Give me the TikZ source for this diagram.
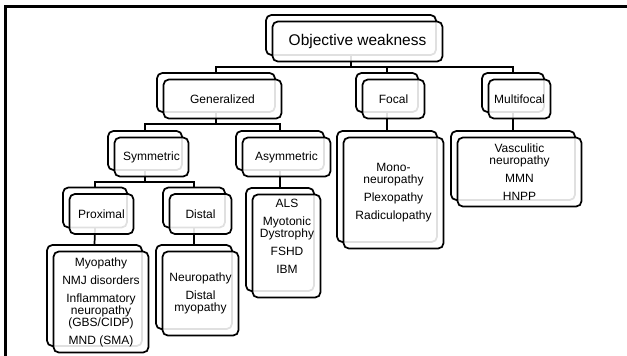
\documentclass[tikz,border=0pt]{standalone}
\usepackage{fontspec}
\newfontfamily\boxfont{Liberation Sans}
\usetikzlibrary{calc}
\tikzset{
  panel/.style={draw=black, line width=1.3pt, rounded corners=4pt, inner sep=0pt, outer sep=0pt},
  backbox/.style={panel, fill=white},
  frontbox/.style={panel, fill=white, fill opacity=0.88, text opacity=1, align=center,
    font=\boxfont\fontsize{9}{9}\selectfont},
  boxtext/.style={align=center, inner sep=0pt, font=\boxfont\fontsize{9}{9}\selectfont},
  link/.style={draw=black, line width=1.3pt},
  frame/.style={draw=black, line width=2.25pt},
}
% back panel: name, centre x, centre y, width, height (all in px)
\newcommand\backpanel[5]{\node[backbox, minimum width=#4*0.75pt, minimum height=#5*0.75pt] (#1b) at (#2,#3) {};}
% front panel: name, width, height, text
\newcommand\frontpanel[4]{\node[frontbox, minimum width=#2*0.75pt, minimum height=#3*0.75pt] (#1f) at ($(#1b.center)+(6.5,6.5)$) {#4};}
\begin{document}
\begin{tikzpicture}[x=0.75pt,y=-0.75pt]
\useasboundingbox (0,0) rectangle (627,355);
\draw[frame] (5.5,360) -- (5.5,6.5) -- (632,6.5);

% back panels
\backpanel{obj}{351}{35}{170}{40}
\backpanel{gen}{216}{92.5}{118}{39}
\backpanel{foc}{387}{92.5}{62}{39}
\backpanel{mul}{513}{92.5}{62}{39}
\backpanel{sym}{145}{150.5}{74}{39}
\backpanel{asym}{280}{150.5}{88}{39}
\backpanel{prox}{95}{207.5}{64}{40}
\backpanel{dist}{194}{207.5}{62}{40}
\backpanel{proxl}{94.5}{295.5}{95}{101}
\backpanel{distl}{194}{287}{76}{84}
\backpanel{asyml}{280}{239.5}{68}{103}
\backpanel{focl}{387}{186.5}{100}{111}
\backpanel{mull}{513}{165.5}{124}{69}

% connectors
\draw[link] (objb.south) -- ++(0,12) -| (genb.north);
\draw[link] (objb.south) -- ++(0,12) -| (focb.north);
\draw[link] (objb.south) -- ++(0,12) -| (mulb.north);
\draw[link] (genb.south) -- ++(0,12) -| (symb.north);
\draw[link] (genb.south) -- ++(0,12) -| (asymb.north);
\draw[link] (symb.south) -- ++(0,12) -| (proxb.north);
\draw[link] (symb.south) -- ++(0,12) -| (distb.north);
\draw[link] (proxb.south) -- (proxlb.north);
\draw[link] (distb.south) -- (distlb.north);
\draw[link] (asymb.south) -- (asymlb.north);
\draw[link] (focb.south) -- (foclb.north);
\draw[link] (mulb.south) -- (mullb.north);

% front panels
\frontpanel{obj}{170}{40}{\fontsize{11.6}{13}\selectfont Objective weakness}
\frontpanel{gen}{118}{39}{Generalized}
\frontpanel{foc}{62}{39}{Focal}
\frontpanel{mul}{62}{39}{Multifocal}
\frontpanel{sym}{74}{39}{Symmetric}
\frontpanel{asym}{88}{39}{Asymmetric}
\frontpanel{prox}{64}{40}{Proximal}
\frontpanel{dist}{62}{40}{Distal}
\frontpanel{proxl}{95}{101}{Myopathy\\[4.5pt] NMJ disorders\\[4.5pt] Inflammatory\\ neuropathy\\ (GBS/CIDP)\\[4.5pt] MND (SMA)}
\frontpanel{distl}{76}{84}{Neuropathy\\[4.5pt] Distal\\ myopathy}
\frontpanel{asyml}{68}{103}{}
\frontpanel{focl}{100}{111}{Mono-\\ neuropathy\\[4.5pt] Plexopathy\\[4.5pt] Radiculopathy}
\frontpanel{mull}{124}{69}{Vasculitic\\ neuropathy\\[4.5pt] MMN\\[4.5pt] HNPP}
\node[boxtext] (asymlt) at (287,236.5) {ALS\\[4.5pt] Myotonic\\ Dystrophy\\[4.5pt] FSHD\\[4.5pt] IBM};
\end{tikzpicture}
\end{document}
